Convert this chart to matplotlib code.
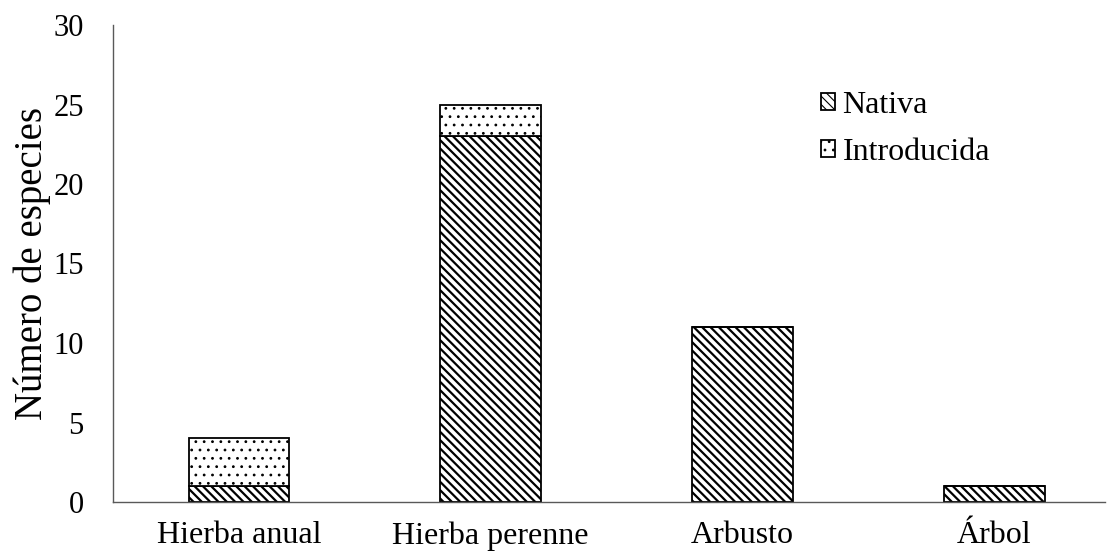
import matplotlib
matplotlib.use("Agg")
import matplotlib.pyplot as plt
from matplotlib.patches import Patch

categories = ["Hierba anual", "Hierba perenne", "Arbusto", "Árbol"]
nativa = [1, 23, 11, 1]
introducida = [3, 2, 0, 0]
yticks = [0, 5, 10, 15, 20, 25, 30]

plt.rcParams['font.family'] = ['Liberation Serif', 'DejaVu Serif']
plt.rcParams['hatch.color'] = 'black'

fig = plt.figure(figsize=(11.07, 5.54), dpi=100)
ax = fig.add_axes([113/1107, 1 - 502/554, (1105 - 113)/1107, (502 - 25)/554])

x = list(range(len(categories)))
w = 0.4
plt.rcParams['hatch.linewidth'] = 1.6
b1 = ax.bar(x, nativa, width=w, color='white', edgecolor='black', linewidth=1.3, hatch='\\\\\\\\')
plt.rcParams['hatch.linewidth'] = 0.8
b2 = ax.bar(x, introducida, width=w, bottom=nativa, color='white', edgecolor='black', linewidth=1.3, hatch='..')
for p in b1:
    if hasattr(p, 'set_hatch_linewidth'):
        p.set_hatch_linewidth(1.6)
for p in b2:
    if hasattr(p, 'set_hatch_linewidth'):
        p.set_hatch_linewidth(0.8)

ax.set_xlim(-0.5, 3.44)
ax.set_ylim(0, 30)
ax.set_yticks(yticks)
ax.set_xticks(x)
ax.set_xticklabels(categories, fontsize=23)
ax.tick_params(axis='y', length=0, pad=21, labelsize=22)
ax.tick_params(axis='x', length=0, pad=14)
for s in ['top', 'right']:
    ax.spines[s].set_visible(False)
for s in ['left', 'bottom']:
    ax.spines[s].set_color('#595959')
    ax.spines[s].set_linewidth(1.0)
ax.set_ylabel("Número de especies", fontsize=28)
ax.yaxis.set_label_coords((51 - 113) / 992, 0.5)

h1 = Patch(facecolor='white', edgecolor='black', linewidth=1.3, hatch='\\\\\\\\', label='Nativa')
h2 = Patch(facecolor='white', edgecolor='black', linewidth=1.3, hatch='..', label='Introducida')
for h, lw in ((h1, 1.6), (h2, 0.8)):
    if hasattr(h, 'set_hatch_linewidth'):
        h.set_hatch_linewidth(lw)
fig.legend(handles=[h1, h2], loc='upper left', bbox_to_anchor=(821/1107, 1 - 91/554),
           frameon=False, fontsize=23, handlelength=0.45, handleheight=0.45,
           handletextpad=0.22, labelspacing=0.55, borderaxespad=0, borderpad=0)

fig.savefig("out.png", dpi=100)
